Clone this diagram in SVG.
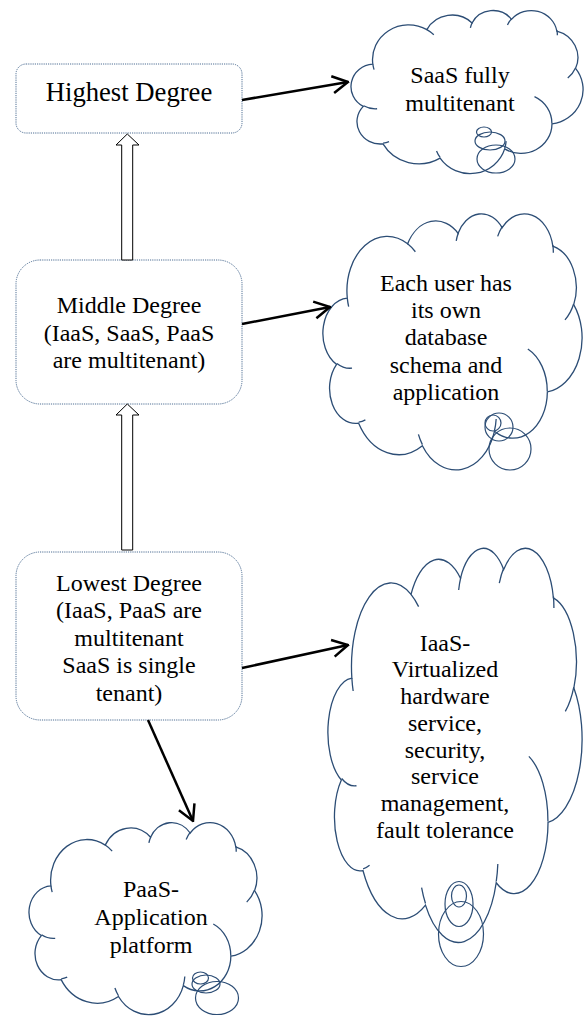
<svg xmlns="http://www.w3.org/2000/svg" xmlns:xlink="http://www.w3.org/1999/xlink" width="584" height="1017" viewBox="0 0 584 1017">
  <style>
    .box { fill: #ffffff; stroke: #4f6f94; stroke-width: 1; stroke-dasharray: 1.2 1; }
    .cloud { fill: #ffffff; stroke: #2c4d75; stroke-width: 1.3; vector-effect: non-scaling-stroke; }
    .cloud-inner { fill: none; stroke: #2c4d75; stroke-width: 1.3; vector-effect: non-scaling-stroke; }
    .tail { fill: none; stroke: #2c4d75; stroke-width: 1.2; }
    .lbl { font-family: "Liberation Serif", "Times New Roman", serif; font-size: 24px; fill: #000000; text-anchor: middle; }
    .big { font-size: 26.67px; }
    .link { fill: none; stroke: #000000; stroke-width: 2.5; marker-end: url(#open); }
    .hollow { fill: #ffffff; stroke: #000000; stroke-width: 1; stroke-linejoin: miter; }
  </style>
  <defs>
    <marker id="open" markerUnits="userSpaceOnUse" markerWidth="18" markerHeight="20" viewBox="0 0 18 20" refX="16.5" refY="10" orient="auto">
      <path d="M1,1.5 L16.5,10 L1,18.5" fill="none" stroke="#000000" stroke-width="2.5" stroke-linejoin="miter"/>
    </marker>
    <!-- cloud outline in a 43200 x 43200 unit box -->
    <g id="cloud">
      <path class="cloud" d="M3900,14370 A6753,9190 0 0 1 14005,5202 A5333,7267 0 0 1 22452,3430 A4365,5945 0 0 1 29826,2477 A4857,6595 0 0 1 38312,5572 A5333,7273 0 0 1 41812,15456 A6775,9220 0 0 1 37399,30202 A5785,7867 0 0 1 28551,36813 A6752,9215 0 0 1 16476,39265 A7720,10543 0 0 1 5798,35471 A4360,5918 0 0 1 2108,25548 A4345,5945 0 0 1 3900,14370 Z"/>
      <path class="cloud-inner" d="M4693,26177 A4345,5945 0 0 1 2160,25380 M6928,34899 A4360,5918 0 0 1 5819,35281 M16478,39090 A6752,9215 0 0 1 15810,37349 M28827,34751 A6752,9215 0 0 1 28560,36659 M34129,22954 A5785,7867 0 0 1 37380,30090 M41798,15354 A5333,7273 0 0 1 40351,18029 M38324,5426 A4857,6595 0 0 1 38400,6689 M29078,3952 A4857,6595 0 0 1 29819,2341 M22141,4720 A4365,5945 0 0 1 22501,3328 M14000,5192 A6753,9190 0 0 1 15300,6540 M4127,15789 A6753,9190 0 0 1 3900,14370"/>
    </g>
  </defs>

  <!-- degree boxes -->
  <g id="highest">
    <rect class="box" x="16" y="64" width="226" height="69" rx="10" ry="10"/>
    <text class="lbl big" x="129" y="101">Highest Degree</text>
  </g>
  <g id="middle">
    <rect class="box" x="16" y="260" width="226" height="144" rx="24" ry="24"/>
    <text class="lbl" x="129" y="313">Middle Degree</text>
    <text class="lbl" x="129" y="340.5">(IaaS, SaaS, PaaS</text>
    <text class="lbl" x="129" y="368">are multitenant)</text>
  </g>
  <g id="lowest">
    <rect class="box" x="16" y="552" width="226" height="168" rx="24" ry="24"/>
    <text class="lbl" x="129" y="590.5">Lowest Degree</text>
    <text class="lbl" x="129" y="618">(IaaS, PaaS are</text>
    <text class="lbl" x="129" y="645.5">multitenant</text>
    <text class="lbl" x="129" y="673">SaaS is single</text>
    <text class="lbl" x="129" y="700.5">tenant)</text>
  </g>

  <!-- cloud callouts -->
  <g id="saas-cloud">
    <use xlink:href="#cloud" href="#cloud" transform="translate(352,10) scale(0.0053472,0.0037731)"/>
    <ellipse class="tail" cx="484" cy="132" rx="7.5" ry="5"/>
    <ellipse class="tail" cx="490" cy="141" rx="15" ry="9"/>
    <ellipse class="tail" cx="496" cy="159" rx="19" ry="14"/>
    <text class="lbl" x="460" y="83">SaaS fully</text>
    <text class="lbl" x="460" y="111">multitenant</text>
  </g>
  <g id="schema-cloud">
    <use xlink:href="#cloud" href="#cloud" transform="translate(324,213) scale(0.0059722,0.0059259)"/>
    <ellipse class="tail" cx="493" cy="423" rx="8" ry="8"/>
    <ellipse class="tail" cx="499" cy="427" rx="14" ry="14"/>
    <ellipse class="tail" cx="510" cy="449" rx="21" ry="21"/>
    <text class="lbl" x="446" y="290.5">Each user has</text>
    <text class="lbl" x="446" y="317.5">its own</text>
    <text class="lbl" x="446" y="344.5">database</text>
    <text class="lbl" x="446" y="372.5">schema and</text>
    <text class="lbl" x="446" y="400">application</text>
  </g>
  <g id="iaas-cloud">
    <use xlink:href="#cloud" href="#cloud" transform="translate(329,547) scale(0.0058565,0.0091204)"/>
    <ellipse class="tail" cx="459" cy="896" rx="7.5" ry="11"/>
    <ellipse class="tail" cx="459" cy="904" rx="14" ry="22.5"/>
    <ellipse class="tail" cx="461" cy="934" rx="22.5" ry="32.5"/>
    <text class="lbl" x="445" y="650.5">IaaS-</text>
    <text class="lbl" x="445" y="677.3">Virtualized</text>
    <text class="lbl" x="445" y="704">hardware</text>
    <text class="lbl" x="445" y="730.8">service,</text>
    <text class="lbl" x="445" y="757.5">security,</text>
    <text class="lbl" x="445" y="784.3">service</text>
    <text class="lbl" x="445" y="811">management,</text>
    <text class="lbl" x="445" y="837.8">fault tolerance</text>
  </g>
  <g id="paas-cloud">
    <use xlink:href="#cloud" href="#cloud" transform="translate(30,822) scale(0.0053704,0.0044444)"/>
    <ellipse class="tail" cx="200.5" cy="978" rx="8" ry="6"/>
    <ellipse class="tail" cx="206" cy="984" rx="14" ry="9"/>
    <ellipse class="tail" cx="217" cy="998" rx="21.5" ry="16.5"/>
    <text class="lbl" x="151" y="897">PaaS-</text>
    <text class="lbl" x="151" y="925">Application</text>
    <text class="lbl" x="151" y="953">platform</text>
  </g>

  <!-- connectors -->
  <g id="connectors">
    <path class="hollow" d="M127.3,134 L139,145 L132.7,145 L132.7,260 L121.7,260 L121.7,145 L116,145 Z"/>
    <path class="hollow" d="M127.3,404 L139,415 L132.7,415 L132.7,550 L121.7,550 L121.7,415 L116,415 Z"/>
    <line class="link" x1="242" y1="100" x2="348" y2="82"/>
    <line class="link" x1="242" y1="324" x2="330" y2="307"/>
    <line class="link" x1="242" y1="668" x2="348" y2="645"/>
    <line class="link" x1="148" y1="720" x2="193" y2="821"/>
  </g>
</svg>
